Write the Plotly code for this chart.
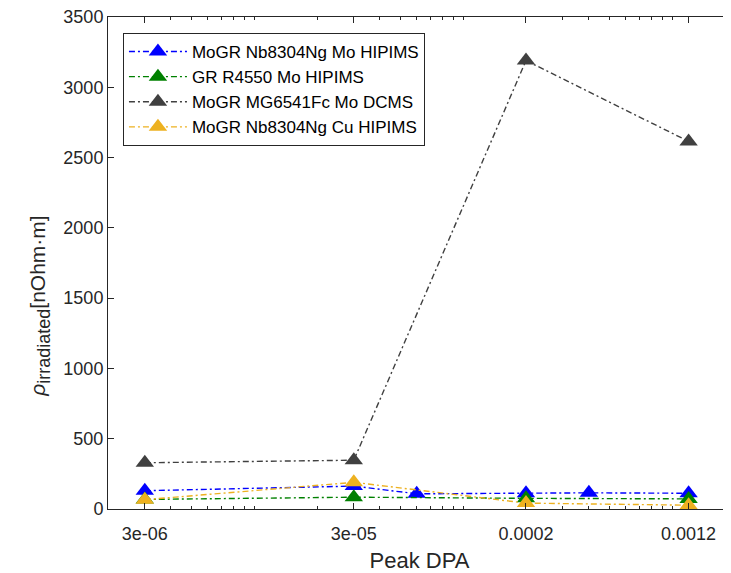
import plotly.graph_objects as go

# Data
dpa_blue = [3e-6, 3e-5, 6e-5, 2e-4, 4e-4, 1.2e-3]
rho_blue = [130, 163, 108, 112, 115, 112]

dpa_green = [3e-6, 3e-5, 2e-4, 1.2e-3]
rho_green = [68, 84, 76, 72]

dpa_grey = [3e-6, 3e-5, 2e-4, 1.2e-3]
rho_grey = [329, 347, 3190, 2615]

dpa_orange = [3e-6, 3e-5, 2e-4, 1.2e-3]
rho_orange = [66, 190, 42, 27]

names = ["MoGR Nb8304Ng Mo HIPIMS", "GR R4550 Mo HIPIMS",
         "MoGR MG6541Fc Mo DCMS", "MoGR Nb8304Ng Cu HIPIMS"]
colors = ["#0000FF", "#008000", "#404040", "#EDB120"]

x_tickvals = [3e-6, 3e-5, 2e-4, 1.2e-3]
x_ticktext = ["3e-06", "3e-05", "0.0002", "0.0012"]
y_tickvals = [0, 500, 1000, 1500, 2000, 2500, 3000, 3500]

series = [(dpa_blue, rho_blue), (dpa_green, rho_green),
          (dpa_grey, rho_grey), (dpa_orange, rho_orange)]

fig = go.Figure()
for (xs, ys), name, col in zip(series, names, colors):
    fig.add_trace(go.Scatter(
        x=xs, y=ys, name=name, mode="lines+markers",
        line=dict(color=col, width=1.4, dash="6px,3px,2px,3px"),
        marker=dict(symbol="triangle-up", size=16, color=col,
                    line=dict(width=0)),
    ))

minor_vals = [m * 10.0 ** e for e in range(-6, -2) for m in range(1, 10)]

axis_col = "#262626"
font_family = "Liberation Sans, Arial, Helvetica, sans-serif"

fig.update_layout(
    width=723, height=565,
    margin=dict(l=100, r=0, t=9, b=64),
    paper_bgcolor="white", plot_bgcolor="white",
    font=dict(family=font_family, color=axis_col, size=18),
    showlegend=True,
    legend=dict(
        x=0.024, y=0.9675, xanchor="left", yanchor="top",
        bgcolor="white", bordercolor="#262626", borderwidth=1,
        font=dict(size=17, color="black", family=font_family),
        itemwidth=58, tracegroupgap=0,
    ),
    annotations=[dict(
        text="<i>ρ</i><sub><span style=\"font-size:18px\">irradiated</span></sub>[nOhm·m]",
        xref="paper", yref="paper", x=-0.11, y=0.412,
        xanchor="center", yanchor="middle", textangle=-90,
        showarrow=False, font=dict(size=21, color=axis_col, family=font_family),
    )],
)

fig.update_xaxes(
    type="log",
    range=[-5.699, -2.718],
    automargin=False,
    tickmode="array", tickvals=x_tickvals, ticktext=x_ticktext,
    ticks="inside", ticklen=6, tickcolor=axis_col,
    ticklabelstandoff=8, ticklabeloverflow="allow",
    showline=True, linecolor=axis_col, linewidth=1, mirror="ticks",
    showgrid=False, zeroline=False,
    tickfont=dict(size=18, color=axis_col),
    minor=dict(tickmode="array", tickvals=minor_vals, ticks="inside",
               ticklen=3, tickcolor=axis_col, showgrid=False),
    title=dict(text="Peak DPA", font=dict(size=22, color=axis_col)),
)

fig.update_yaxes(
    range=[0, 3500],
    automargin=False,
    tickmode="array", tickvals=y_tickvals,
    ticks="inside", ticklen=6, tickcolor=axis_col,
    ticklabeloverflow="allow",
    showline=True, linecolor=axis_col, linewidth=1, mirror="ticks",
    showgrid=False, zeroline=False,
    tickfont=dict(size=18, color=axis_col),
)

fig.write_html("out.html")
